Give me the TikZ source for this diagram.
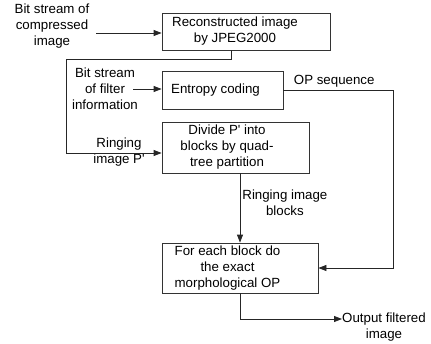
\documentclass[tikz,border=0pt]{standalone}
\usepackage{fontspec}
\setmainfont{Liberation Sans}
\usepackage{tikz}
\usetikzlibrary{arrows.meta,calc,positioning}
% box text sits a little left of the box centre
\newcommand{\boxtext}[2]{\begin{tabular}{@{}c@{}}#2\end{tabular}\hspace*{#1}}

\begin{document}
\begin{tikzpicture}[x=1pt,y=-1pt,>={Triangle[length=8pt,width=6pt]},
  font=\fontsize{13.3}{16}\selectfont,
  box/.style={draw=black!80,line width=0.8pt,inner sep=0pt},
  lbl/.style={align=center,inner sep=2pt},
  link/.style={->,line width=0.8pt,draw=black!85}]
  \useasboundingbox (0,0) rectangle (431,343);
  % boxes
  \node[box,minimum width=168,minimum height=37] (recon) at (246,31.5) {\boxtext{22pt}{Reconstructed image\\by JPEG2000}};
  \node[box,minimum width=121,minimum height=38] (entropy) at (222.5,90) {\boxtext{14pt}{Entropy coding}};
  \node[box,minimum width=147,minimum height=51] (divide) at (235.5,147.5) {\boxtext{17pt}{Divide P\textquotesingle{} into\\blocks by quad-\\tree partition}};
  \node[box,minimum width=156,minimum height=50] (morph) at (240,268) {\boxtext{25pt}{For each block do\\the exact\\morphological OP}};
  % side texts
  \node[lbl] (bitcomp) at (52,26) {Bit stream of\\compressed\\image};
  \node[lbl] (bitfilt) at (105,89) {Bit stream\\of filter\\information};
  \node[lbl] (ringp) at (119,152) {Ringing\\image P\textquotesingle};
  \node[lbl,anchor=north west] (outtxt) at (340,311) {Output filtered\\image};
  % corners
  \coordinate (cin) at (96,33);
  \coordinate (fin) at (133,89);
  \coordinate (rtap) at (231,59);
  \coordinate (rl) at (66,59);
  \coordinate (rb) at (66,153);
  \coordinate (opc) at (393,90);
  \coordinate (oend) at (342,319);
  % connectors
  \draw[link] (cin) -- (cin -| recon.west);
  \draw[link] (fin) -- (fin -| entropy.west);
  \draw[link,-] (rtap |- recon.south) -- (rtap) -- (rl) -- (rb);
  \draw[link] (rb) -- (rb -| divide.west);
  \draw[link] (entropy.east) -- node[above,inner sep=2pt,xshift=-4pt] (opseq) {OP sequence} (opc) |- (morph.east);
  \draw[link] (divide.south -| morph.north) -- node[right,pos=0.42,lbl] (blocks) {Ringing image\\blocks} (morph.north);
  \draw[link] (morph.south) |- (oend);
\end{tikzpicture}
\end{document}
